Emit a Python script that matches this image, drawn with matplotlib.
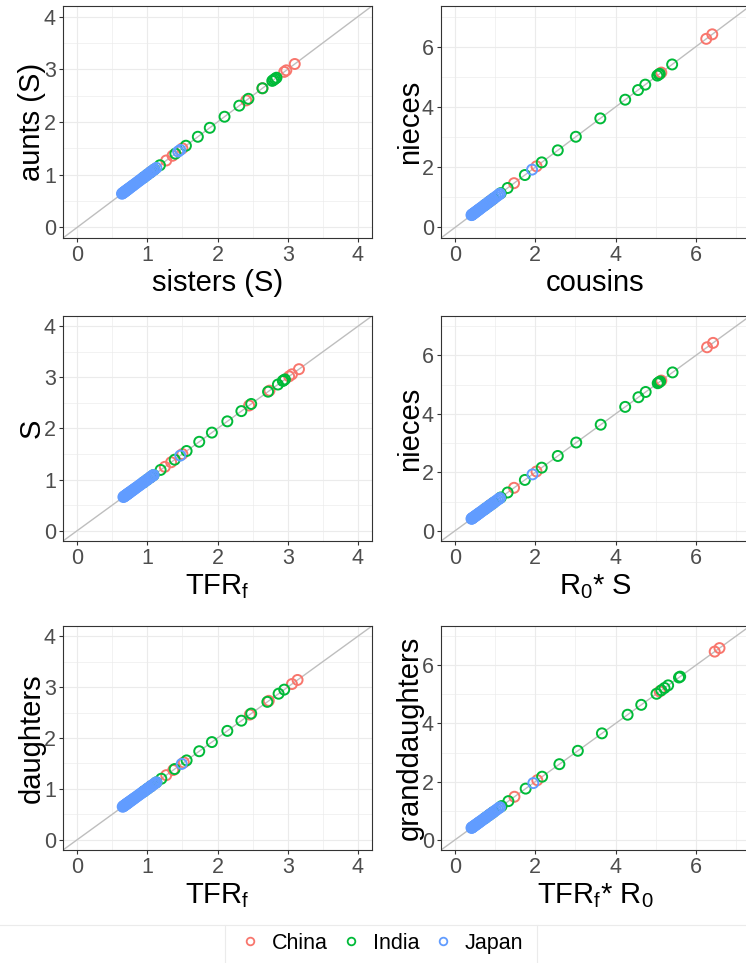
import matplotlib
matplotlib.use('Agg')
import matplotlib.pyplot as plt
from matplotlib.lines import Line2D
from matplotlib.ticker import MultipleLocator

plt.rcParams['font.family'] = ['Liberation Sans', 'DejaVu Sans']
plt.rcParams['mathtext.fontset'] = 'custom'
plt.rcParams['mathtext.rm'] = 'Liberation Sans'
plt.rcParams['mathtext.it'] = 'Liberation Sans:italic'

countries = ['China', 'India', 'Japan']
colors = ['#F8766D', '#00BA38', '#619CFF']

# points lie on the diagonal (model value == approximation), so one value per point
# top-left: aunts (S) vs sisters (S)
aunts_china = [1.05, 1.27, 1.36, 1.50, 2.41, 2.64, 2.95, 2.98, 3.10]
aunts_india = [0.95, 1.00, 1.05, 1.10, 1.18, 1.40, 1.55, 1.72, 1.89, 2.10, 2.31,
               2.44, 2.64, 2.78, 2.80, 2.82, 2.84]
aunts_japan = [0.64, 0.65, 0.66, 0.67, 0.68, 0.69, 0.70, 0.71, 0.72, 0.73, 0.74,
               0.76, 0.77, 0.79, 0.80, 0.82, 0.84, 0.86, 0.88, 0.90, 0.92, 0.94,
               0.96, 0.98, 1.00, 1.02, 1.04, 1.06, 1.08, 1.10, 1.13, 1.44, 1.47]

# middle-left: S vs TFR_f
s_china = [1.05, 1.25, 1.34, 1.50, 2.45, 2.74, 3.02, 3.06, 3.16]
s_india = [0.95, 1.00, 1.05, 1.09, 1.19, 1.39, 1.56, 1.74, 1.92, 2.14, 2.34,
           2.48, 2.72, 2.86, 2.93, 2.94, 2.96]
s_japan = [0.66, 0.67, 0.68, 0.69, 0.70, 0.71, 0.72, 0.73, 0.74, 0.75, 0.76,
           0.78, 0.79, 0.81, 0.82, 0.84, 0.86, 0.88, 0.90, 0.92, 0.94, 0.96,
           0.98, 1.00, 1.02, 1.04, 1.06, 1.08, 1.09, 1.47]

# bottom-left: daughters vs TFR_f
daughters_china = [1.05, 1.27, 1.37, 1.52, 2.46, 2.73, 3.06, 3.14]
daughters_india = [0.95, 1.00, 1.05, 1.13, 1.20, 1.39, 1.56, 1.74, 1.92, 2.14,
                   2.34, 2.48, 2.71, 2.87, 2.95]
daughters_japan = [0.65, 0.66, 0.67, 0.68, 0.69, 0.70, 0.71, 0.72, 0.73, 0.74,
                   0.75, 0.77, 0.78, 0.80, 0.81, 0.83, 0.85, 0.87, 0.89, 0.91,
                   0.93, 0.95, 0.97, 0.99, 1.01, 1.03, 1.05, 1.07, 1.09, 1.11,
                   1.13, 1.49]

# top-right: nieces vs cousins
cousins_china = [0.90, 1.47, 2.03, 5.14, 6.26, 6.41]
cousins_india = [0.75, 0.85, 0.95, 1.14, 1.31, 1.74, 2.16, 2.56, 3.01, 3.62, 4.24,
                 4.56, 4.74, 5.04, 5.08, 5.10, 5.41]
cousins_japan = [0.41, 0.42, 0.43, 0.45, 0.46, 0.48, 0.50, 0.52, 0.54, 0.56, 0.58,
                 0.60, 0.62, 0.65, 0.68, 0.71, 0.74, 0.77, 0.80, 0.83, 0.86, 0.90,
                 0.94, 0.98, 1.02, 1.06, 1.10, 1.12, 1.92]

# middle-right: nieces vs R0* S
nieces_china = [0.90, 1.47, 2.03, 5.14, 6.28, 6.43]
nieces_india = [0.75, 0.85, 0.95, 1.14, 1.31, 1.74, 2.16, 2.56, 3.02, 3.63, 4.24,
                4.57, 4.75, 5.05, 5.08, 5.11, 5.42]
nieces_japan = [0.41, 0.42, 0.43, 0.45, 0.46, 0.48, 0.50, 0.52, 0.54, 0.56, 0.58,
                0.60, 0.62, 0.65, 0.68, 0.71, 0.74, 0.77, 0.80, 0.83, 0.86, 0.90,
                0.94, 0.98, 1.02, 1.06, 1.10, 1.12, 1.93]

# bottom-right: granddaughters vs TFR_f* R0
grand_china = [0.90, 1.48, 2.05, 5.10, 6.47, 6.59]
grand_india = [0.75, 0.85, 0.95, 1.16, 1.33, 1.76, 2.17, 2.60, 3.06, 3.66, 4.30,
               4.64, 5.02, 5.14, 5.22, 5.31, 5.58, 5.61]
grand_japan = [0.41, 0.42, 0.43, 0.45, 0.46, 0.48, 0.50, 0.52, 0.54, 0.56, 0.58,
               0.60, 0.62, 0.65, 0.68, 0.71, 0.74, 0.77, 0.80, 0.83, 0.86, 0.90,
               0.94, 0.98, 1.02, 1.06, 1.10, 1.12, 1.95]

panels = [
    ('sisters (S)', 'aunts (S)', [aunts_china, aunts_india, aunts_japan], 4),
    ('cousins', 'nieces', [cousins_china, cousins_india, cousins_japan], 7),
    (r'TFR$_{\mathrm{f}}$', 'S', [s_china, s_india, s_japan], 4),
    (r'R$_{\mathrm{0}}$* S', 'nieces', [nieces_china, nieces_india, nieces_japan], 7),
    (r'TFR$_{\mathrm{f}}$', 'daughters', [daughters_china, daughters_india, daughters_japan], 4),
    (r'TFR$_{\mathrm{f}}$* R$_{\mathrm{0}}$', 'granddaughters', [grand_china, grand_india, grand_japan], 7),
]

W, H = 746, 963
fig = plt.figure(figsize=(W / 100, H / 100), dpi=100)

rows = [(6, 238), (316, 541), (626, 850)]
cols = [(63, 372), (441, 750)]

for i, (xlab, ylab, series, top) in enumerate(panels):
    r, c = divmod(i, 2)
    x0, x1 = cols[c]
    y0, y1 = rows[r]
    ax = fig.add_axes([x0 / W, 1 - y1 / H, (x1 - x0) / W, (y1 - y0) / H])
    pad = top * 0.05
    ax.set_xlim(-pad, top + pad)
    ax.set_ylim(-pad, top + pad)
    step = 1 if top == 4 else 2
    for a in (ax.xaxis, ax.yaxis):
        a.set_major_locator(MultipleLocator(step))
        a.set_minor_locator(MultipleLocator(step / 2))
    ax.grid(which='major', color='#EBEBEB', lw=0.85, zorder=0)
    ax.grid(which='minor', color='#EBEBEB', lw=0.45, zorder=0)
    ax.set_axisbelow(True)
    ax.axline((0, 0), slope=1, color='#BEBEBE', lw=1.0, zorder=1.5)
    for vals, col in zip(series, colors):
        ax.scatter(vals, vals, s=52, facecolors='none', edgecolors=col,
                   linewidths=1.4, zorder=3)
    for sp in ax.spines.values():
        sp.set_color('#333333')
        sp.set_linewidth(0.8)
    ax.tick_params(which='major', length=3.2, width=0.8, color='#333333',
                   labelsize=15.5, labelcolor='#4D4D4D', pad=2)
    ax.tick_params(which='minor', length=0)
    ax.set_xlabel(xlab, fontsize=21, labelpad=2)
    ax.set_ylabel(ylab, fontsize=21, labelpad=-1.5)

# legend box edges
fig.add_artist(Line2D([0, 1], [1 - 925 / H, 1 - 925 / H], color='#EBEBEB', lw=0.8))
for xp in (225, 537):
    fig.add_artist(Line2D([xp / W, xp / W], [1 - 925 / H, 0], color='#EBEBEB', lw=0.8))

handles = [Line2D([], [], ls='none', marker='o', markersize=5.5, markerfacecolor='none',
                  markeredgecolor=col, markeredgewidth=1.3) for col in colors]
fig.legend(handles, countries, loc='center', bbox_to_anchor=(381 / W, 1 - 943 / H),
           ncol=3, frameon=False, fontsize=15.5, handlelength=1.0,
           handletextpad=0.5, columnspacing=0.6)

fig.savefig('out.png', dpi=100)
